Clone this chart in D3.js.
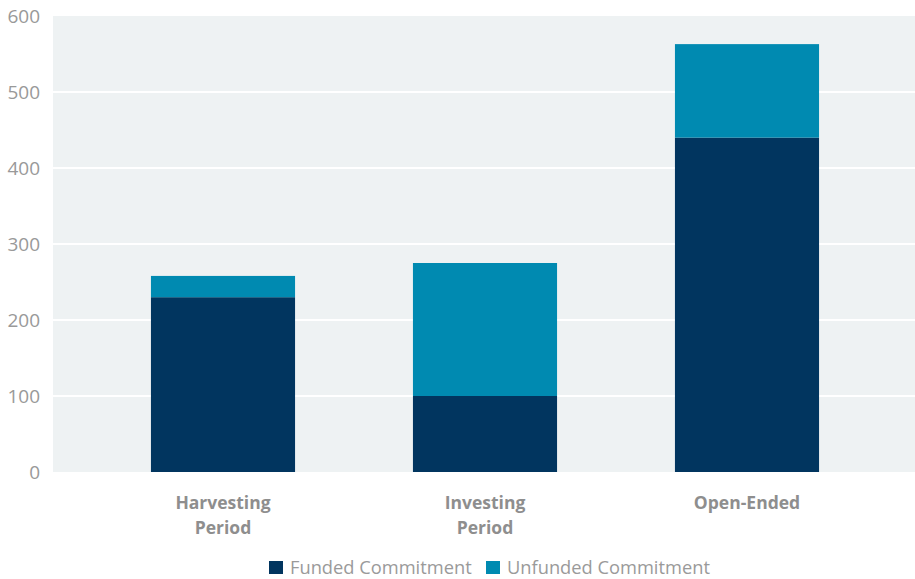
<!DOCTYPE html>
<html>
<head>
<meta charset="utf-8">
<script src="https://cdn.jsdelivr.net/npm/d3@7"></script>
<style>
  html, body { margin: 0; padding: 0; background: #ffffff; }
  svg { display: block; font-family: "Open Sans", "Noto Sans", sans-serif; }
</style>
</head>
<body>
<svg id="chart" width="915" height="579"></svg>
<script>
// Commitments by fund stage
const categories = [["Harvesting", "Period"], ["Investing", "Period"], ["Open-Ended"]];
const categoryKeys = ["Harvesting Period", "Investing Period", "Open-Ended"];
const funded = [230, 100, 440];
const unfunded = [28, 175, 123];
const seriesNames = ["Funded Commitment", "Unfunded Commitment"];
const seriesColors = ["#01355f", "#008ab1"];
const yTicks = [0, 100, 200, 300, 400, 500, 600];

const svg = d3.select("#chart");
const plot = { left: 53, right: 915, top: 16, bottom: 472 };

const y = d3.scaleLinear().domain([0, 600]).range([plot.bottom, plot.top]);
const x = d3.scaleBand().domain(categoryKeys).range([92, 878])
  .paddingInner(0.45).paddingOuter(0.225);

// plot background
svg.append("rect")
  .attr("x", plot.left).attr("y", plot.top)
  .attr("width", plot.right - plot.left).attr("height", plot.bottom - plot.top)
  .attr("fill", "#eef2f3");

// horizontal gridlines
svg.append("g").selectAll("line").data(yTicks.filter(d => d > 0 && d < 600)).join("line")
  .attr("x1", plot.left).attr("x2", plot.right)
  .attr("y1", d => y(d)).attr("y2", d => y(d))
  .attr("stroke", "#ffffff").attr("stroke-width", 2);

// y axis labels
const yAxis = d3.axisLeft(y).tickValues(yTicks).tickSize(0).tickPadding(13);
const gy = svg.append("g").attr("transform", `translate(${plot.left},0)`).call(yAxis);
gy.select(".domain").remove();
gy.selectAll("text")
  .attr("fill", "#999999")
  .style("font-size", "19px")
  .style("font-family", "'Open Sans', sans-serif");

// stacked bars
const rows = categoryKeys.map((k, i) => ({ key: k, funded: funded[i], unfunded: unfunded[i] }));
const stack = d3.stack().keys(["funded", "unfunded"])(rows);
svg.append("g").selectAll("g").data(stack).join("g")
  .attr("fill", (d, i) => seriesColors[i])
  .selectAll("rect").data(d => d).join("rect")
  .attr("x", d => x(d.data.key))
  .attr("width", x.bandwidth())
  .attr("y", d => y(d[1]))
  .attr("height", d => y(d[0]) - y(d[1]));

// category labels
const cat = svg.append("g");
categoryKeys.forEach((k, i) => {
  const t = cat.append("text")
    .attr("x", x(k) + x.bandwidth() / 2)
    .attr("y", 509)
    .attr("text-anchor", "middle")
    .attr("fill", "#8e8e8e")
    .style("font-size", "17.5px")
    .style("font-weight", "700");
  categories[i].forEach((line, j) => {
    t.append("tspan").attr("x", x(k) + x.bandwidth() / 2).attr("dy", j === 0 ? 0 : 25).text(line);
  });
});

// legend
const legendItems = [
  { name: seriesNames[0], color: seriesColors[0], x: 269 },
  { name: seriesNames[1], color: seriesColors[1], x: 486 }
];
const lg = svg.append("g");
legendItems.forEach(it => {
  lg.append("rect").attr("x", it.x).attr("y", 561).attr("width", 14).attr("height", 13).attr("fill", it.color);
  lg.append("text").attr("x", it.x + 21).attr("y", 574)
    .attr("fill", "#9a9a9a")
    .style("font-size", "18.3px")
    .text(it.name);
});
</script>
</body>
</html>
